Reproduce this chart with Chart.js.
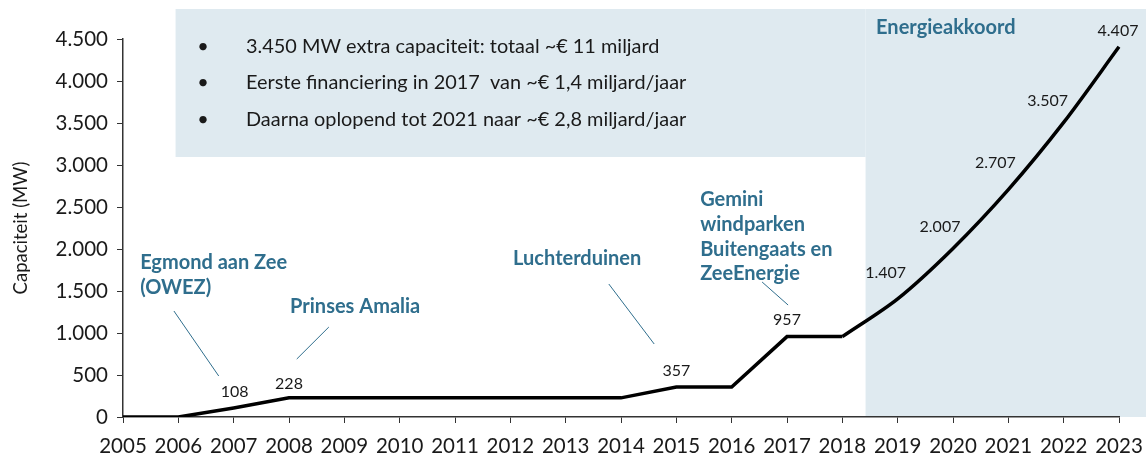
<!DOCTYPE html>
<html>
<head>
<meta charset="utf-8">
<script src="https://cdn.jsdelivr.net/npm/chart.js@4"></script>
<style>
  html, body { margin: 0; padding: 0; background: #fff; }
  #wrap { width: 1146px; height: 461px; }
</style>
</head>
<body>
<div id="wrap"><canvas id="capChart"></canvas></div>
<script>
// Data
const years = ["2005", "2006", "2007", "2008", "2009", "2010", "2011", "2012", "2013", "2014",
  "2015", "2016", "2017", "2018", "2019", "2020", "2021", "2022", "2023"];
const capacity = [0, 0, 108, 228, 228, 228, 228, 228, 228, 228,
  357, 357, 957, 957, 1407, 2007, 2707, 3507, 4407];
const labelledYears = ["2007", "2008", "2015", "2017", "2019", "2020", "2021", "2022", "2023"];
const yTicks = [0, 500, 1000, 1500, 2000, 2500, 3000, 3500, 4000, 4500];
const bullets = [
  "3.450 MW extra capaciteit: totaal ~€ 11 miljard",
  "Eerste financiering in 2017  van ~€ 1,4 miljard/jaar",
  "Daarna oplopend tot 2021 naar ~€ 2,8 miljard/jaar",
];
const smoothFrom = "2018"; // Energieakkoord part is drawn smoothed

// Styling
const teal = "#2f6e8d";
const boxColor = "#dfeaf0";
const fontFam = "Lato, 'Open Sans', sans-serif";

// label offsets (px) from the point
const labelOffsets = {
  "2007": [1, -16], "2008": [0, -14], "2015": [0, -16], "2017": [0, -17],
  "2019": [-12, -26], "2020": [-13, -22], "2021": [-13, -27], "2022": [-16, -22], "2023": [-1, -16],
};

// annotations, anchored in (year, MW)
const notes = [
  { lines: ["Egmond aan Zee", "(OWEZ)"], year: 2005.31, mw: 1833, line: [2005.92, 1262, 2006.73, 488] },
  { lines: ["Prinses Amalia"], year: 2008.02, mw: 1310, line: [2008.14, 690, 2008.72, 1071] },
  { lines: ["Luchterduinen"], year: 2012.05, mw: 1881, line: [2013.78, 1583, 2014.6, 869] },
  { lines: ["Gemini", "windparken", "Buitengaats en", "ZeeEnergie"], year: 2015.43, mw: 2583, line: [2016.55, 1607, 2017.02, 1333] },
  { lines: ["Energieakkoord"], year: 2018.61, mw: 4640 },
];

function nlNumber(v) {
  return String(v).replace(/\B(?=(\d{3})+(?!\d))/g, ".");
}

const splitIdx = years.indexOf(smoothFrom);
const flatPart = capacity.map((v, i) => (i <= splitIdx ? v : null));
const curvePart = capacity.map((v, i) => (i >= splitIdx ? v : null));

const decorPlugin = {
  id: "decor",
  beforeDraw(chart) {
    const { ctx, scales: { x, y } } = chart;
    const px = (yr) => x.getPixelForValue(yr - 2005);
    ctx.save();
    ctx.fillStyle = boxColor;
    // bullet box
    const top = y.getPixelForValue(4857);
    ctx.fillRect(px(2005.95), top, px(2018.42) - px(2005.95), y.getPixelForValue(3095) - top);
    // Energieakkoord box
    ctx.fillRect(px(2018.42), top, chart.width - px(2018.42), y.getPixelForValue(0) - top);
    ctx.restore();
  },
  afterDatasetsDraw(chart) {
    const { ctx, scales: { x, y } } = chart;
    const px = (yr) => x.getPixelForValue(yr - 2005);
    ctx.save();

    // bullets
    ctx.fillStyle = "#1a1a1a";
    ctx.textBaseline = "middle";
    ctx.font = "19.9px " + fontFam;
    bullets.forEach((t, i) => {
      const cy = 46.5 + i * 36.4;
      ctx.textAlign = "center";
      ctx.fillText("•", 203, cy);
      ctx.textAlign = "left";
      ctx.fillText(t, 246, cy);
    });

    // value labels
    ctx.font = "16px " + fontFam;
    ctx.textAlign = "center";
    ctx.fillStyle = "#1a1a1a";
    labelledYears.forEach((yr) => {
      const i = years.indexOf(yr);
      const off = labelOffsets[yr];
      ctx.fillText(nlNumber(capacity[i]), x.getPixelForValue(i) + off[0], y.getPixelForValue(capacity[i]) + off[1]);
    });

    // annotations
    ctx.font = "bold 20px " + fontFam;
    ctx.textAlign = "left";
    ctx.fillStyle = teal;
    ctx.strokeStyle = teal;
    ctx.lineWidth = 1;
    notes.forEach((n) => {
      const x0 = px(n.year);
      const y0 = y.getPixelForValue(n.mw);
      n.lines.forEach((l, k) => ctx.fillText(l, x0, y0 + k * 24.6));
      if (n.line) {
        ctx.beginPath();
        ctx.moveTo(px(n.line[0]), y.getPixelForValue(n.line[1]));
        ctx.lineTo(px(n.line[2]), y.getPixelForValue(n.line[3]));
        ctx.stroke();
      }
    });
    ctx.restore();
  },
};

const ctx = document.getElementById("capChart");
new Chart(ctx, {
  type: "line",
  data: {
    labels: years,
    datasets: [
      { data: flatPart, borderColor: "#000", borderWidth: 3.5, pointRadius: 0, tension: 0 },
      { data: curvePart, borderColor: "#000", borderWidth: 3.5, pointRadius: 0, tension: 0.3 },
    ],
  },
  options: {
    responsive: true,
    maintainAspectRatio: false,
    animation: false,
    layout: { padding: { top: 39, right: 27, bottom: 0, left: 0 } },
    plugins: { legend: { display: false }, tooltip: { enabled: false } },
    scales: {
      x: {
        offset: false,
        grid: { drawOnChartArea: false, drawTicks: true, tickLength: 6, color: "#333" },
        border: { display: true, color: "#333", width: 1.5 },
        ticks: { color: "#1a1a1a", font: { family: fontFam, size: 20.5 }, padding: 11, maxRotation: 0, autoSkip: false },
        afterFit(scale) {
          scale.height = 44;
          scale.paddingLeft = 0;
          scale.paddingRight = 0;
        },
      },
      y: {
        min: 0,
        max: 4500,
        afterBuildTicks(scale) { scale.ticks = yTicks.map((v) => ({ value: v })); },
        grid: { drawOnChartArea: false, drawTicks: true, tickLength: 6, color: "#333" },
        border: { display: true, color: "#333", width: 1.5 },
        ticks: {
          color: "#1a1a1a",
          font: { family: fontFam, size: 20.5 },
          padding: 9,
          callback: (v) => nlNumber(v),
        },
        title: {
          display: true,
          text: "Capaciteit (MW)",
          color: "#1a1a1a",
          font: { family: fontFam, size: 18.5 },
          padding: { top: 10, bottom: 0 },
        },
        afterFit(scale) { scale.width = 123; },
      },
    },
  },
  plugins: [decorPlugin],
});
</script>
</body>
</html>
